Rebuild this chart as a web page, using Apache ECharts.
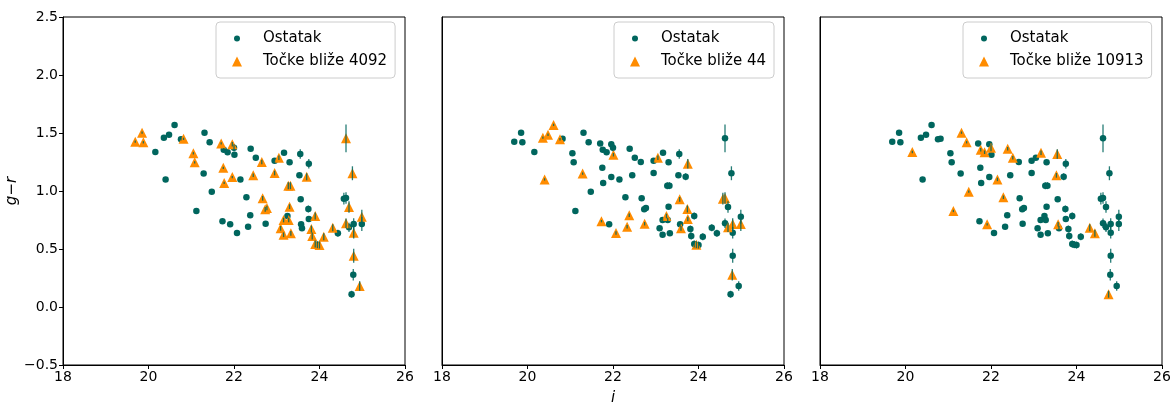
<!DOCTYPE html>
<html>
<head>
<meta charset="utf-8">
<script src="https://cdn.jsdelivr.net/npm/echarts@6/dist/echarts.min.js"></script>
<style>
  html, body { margin: 0; padding: 0; background: #fff; }
  #chart { width: 1172px; height: 403px; }
</style>
</head>
<body>
<div id="chart"></div>
<script>
// i magnitude, g-r colour and its error, one entry per object
var iMag = [19.69, 19.85, 19.88, 20.16, 20.36, 20.40, 20.48, 20.61, 20.76, 20.82,
            21.05, 21.08, 21.12, 21.29, 21.31, 21.43, 21.48, 21.70, 21.73, 21.75,
            21.76, 21.77, 21.85, 21.91, 21.96, 21.96, 22.00, 22.01, 22.07, 22.15,
            22.29, 22.33, 22.38, 22.39, 22.45, 22.51, 22.65, 22.67, 22.73, 22.77,
            22.74, 22.95, 22.95, 23.05, 23.09, 23.16, 23.16, 23.17, 23.25, 23.28,
            23.27, 23.32, 23.30, 23.30, 23.33, 23.55, 23.53, 23.56, 23.57, 23.59,
            23.70, 23.75, 23.74, 23.75, 23.81, 23.83, 23.90, 23.90, 23.95, 24.00,
            24.10, 24.31, 24.43, 24.57, 24.62, 24.62, 24.69, 24.62, 24.69, 24.77,
            24.80, 24.80, 24.80, 24.79, 24.75, 24.94, 24.99, 24.99];
var grColor = [1.425, 1.503, 1.420, 1.336, 1.460, 1.100, 1.485, 1.570, 1.446, 1.450,
               1.325, 1.247, 0.828, 1.150, 1.503, 1.420, 0.994, 1.410, 0.740, 1.200,
               1.356, 1.070, 1.334, 0.713, 1.403, 1.120, 1.373, 1.313, 0.638, 1.100,
               0.946, 0.692, 0.790, 1.365, 1.135, 1.287, 1.250, 0.937, 0.842, 0.853,
               0.718, 1.155, 1.260, 1.287, 0.678, 0.750, 0.623, 1.330, 0.784, 0.750,
               1.046, 1.046, 0.865, 1.247, 0.635, 1.319, 1.135, 0.928, 0.713, 0.678,
               1.123, 1.235, 0.845, 0.759, 0.672, 0.612, 0.784, 0.543, 0.537, 0.534,
               0.606, 0.684, 0.635, 0.934, 0.940, 1.454, 0.862, 0.722, 0.687, 1.153,
               0.716, 0.640, 0.442, 0.278, 0.110, 0.181, 0.778, 0.716];
var grErr = [0.01, 0.01, 0.01, 0.01, 0.01, 0.01, 0.01, 0.01, 0.01, 0.01,
             0.01, 0.01, 0.01, 0.01, 0.01, 0.01, 0.01, 0.01, 0.01, 0.01,
             0.015, 0.01, 0.015, 0.01, 0.02, 0.01, 0.03, 0.015, 0.015, 0.015,
             0.015, 0.015, 0.015, 0.015, 0.015, 0.015, 0.02, 0.02, 0.02, 0.02,
             0.015, 0.02, 0.02, 0.02, 0.02, 0.02, 0.02, 0.02, 0.02, 0.02,
             0.03, 0.03, 0.02, 0.02, 0.02, 0.04, 0.02, 0.02, 0.02, 0.02,
             0.03, 0.04, 0.03, 0.02, 0.03, 0.03, 0.03, 0.03, 0.03, 0.03,
             0.03, 0.03, 0.03, 0.05, 0.05, 0.12, 0.05, 0.04, 0.04, 0.06,
             0.05, 0.05, 0.06, 0.05, 0.03, 0.04, 0.06, 0.06];

// which objects are the nearest neighbours in each panel
var near4092 = [0, 1, 2, 9, 10, 11, 17, 19, 21, 24, 25, 34, 36, 37, 38, 39, 41, 43, 44, 45,
                46, 49, 50, 51, 52, 54, 60, 64, 65, 66, 67, 69, 70, 71, 75, 76, 77, 79, 81, 82,
                85, 86];
var near44 = [4, 5, 6, 7, 8, 13, 18, 27, 28, 31, 32, 40, 43, 48, 57, 59, 61, 62, 63, 68,
              73, 74, 78, 80, 83, 87];
var near10913 = [3, 12, 14, 15, 16, 20, 22, 23, 26, 29, 30, 33, 35, 47, 55, 56, 58, 71, 72, 84];

var panelLabels = ['Točke bliže 4092', 'Točke bliže 44', 'Točke bliže 10913'];

var teal = '#00665e';
var orange = '#ff8c00';
var font = 'DejaVu Sans';

function pointsWhere(test) {
    var out = [];
    for (var n = 0; n < iMag.length; n++) {
        if (test(n)) out.push([iMag[n], grColor[n], grErr[n]]);
    }
    return out;
}

function renderErrorBar(params, api) {
    var x = api.value(0), y = api.value(1), e = api.value(2);
    var lo = api.coord([x, y - e]);
    var hi = api.coord([x, y + e]);
    return {
        type: 'line',
        shape: { x1: lo[0], y1: lo[1], x2: hi[0], y2: hi[1] },
        style: { stroke: teal, lineWidth: 1.3, opacity: 0.85 }
    };
}

var sets = [near4092, near44, near10913];
var lefts = [63, 442, 820];
var legendLefts = [216, 614, 963];

var grids = [], xAxes = [], yAxes = [], series = [], legends = [];
var dotIcon = 'path://M0,0M10,10M2,5A3,3,0,1,0,8,5A3,3,0,1,0,2,5Z';

for (var p = 0; p < 3; p++) {
    var sel = sets[p];
    grids.push({ left: lefts[p], top: 17, width: 342, height: 348, show: true,
                 borderColor: '#000', borderWidth: 1, backgroundColor: 'transparent',
                 containLabel: false, outerBoundsMode: 'none' });
    xAxes.push({
        gridIndex: p, type: 'value', min: 18, max: 26, interval: 2,
        name: p === 1 ? 'i' : '', nameLocation: 'middle', nameGap: 26,
        nameTextStyle: { fontStyle: 'italic', fontSize: 15, color: '#000', fontFamily: font },
        axisLine: { show: true, onZero: false, lineStyle: { color: '#000', width: 1 } },
        axisTick: { show: true, length: 4, lineStyle: { color: '#000' } },
        axisLabel: { fontSize: 14, color: '#000', margin: 5, fontFamily: font },
        splitLine: { show: false }
    });
    yAxes.push({
        gridIndex: p, type: 'value', min: -0.5, max: 2.5, interval: 0.5,
        name: p === 0 ? 'g\u2212r' : '', nameLocation: 'middle', nameGap: 40, nameRotate: 90,
        nameTextStyle: { fontStyle: 'italic', fontSize: 15, color: '#000', fontFamily: font },
        axisLine: { show: true, onZero: false, lineStyle: { color: '#000', width: 1 } },
        axisTick: { show: p === 0, length: 4, lineStyle: { color: '#000' } },
        axisLabel: {
            show: p === 0, fontSize: 14, color: '#000', margin: 5, fontFamily: font,
            formatter: function(v) { return (v < 0 ? '\u2212' : '') + Math.abs(v).toFixed(1); }
        },
        splitLine: { show: false }
    });

    series.push({
        name: 'Ostatak', type: 'scatter', xAxisIndex: p, yAxisIndex: p,
        symbol: 'circle', symbolSize: 6.5,
        itemStyle: { color: teal, opacity: 1 },
        data: pointsWhere(function(n) { return sel.indexOf(n) < 0; }),
        z: 2, silent: true
    });
    series.push({
        name: panelLabels[p], type: 'scatter', xAxisIndex: p, yAxisIndex: p,
        symbol: 'triangle', symbolSize: 10,
        itemStyle: { color: orange, opacity: 1 },
        data: pointsWhere(function(n) { return sel.indexOf(n) >= 0; }),
        z: 3, silent: true
    });
    series.push({
        name: 'err' + p, type: 'custom', xAxisIndex: p, yAxisIndex: p,
        renderItem: renderErrorBar,
        encode: { x: 0, y: 1 },
        data: pointsWhere(function(n) { return true; }),
        z: 4, silent: true
    });

    legends.push({
        left: legendLefts[p], top: 22, orient: 'vertical',
        backgroundColor: 'rgba(255,255,255,0.8)',
        borderColor: '#cccccc', borderWidth: 1, borderRadius: 4,
        padding: [9, 8, 9, 16],
        itemWidth: 10, itemHeight: 10, itemGap: 8,
        textStyle: { fontSize: 15, color: '#000', fontFamily: font, padding: [0, 0, 0, 16], lineHeight: 14 },
        selectedMode: false,
        data: [
            { name: 'Ostatak', icon: dotIcon, itemStyle: { color: teal } },
            { name: panelLabels[p], icon: 'triangle', itemStyle: { color: orange } }
        ]
    });
}

var chart = echarts.init(document.getElementById('chart'), null, { renderer: 'canvas' });
chart.setOption({
    animation: false,
    textStyle: { fontFamily: font },
    grid: grids,
    xAxis: xAxes,
    yAxis: yAxes,
    legend: legends,
    series: series
});
</script>
</body>
</html>
